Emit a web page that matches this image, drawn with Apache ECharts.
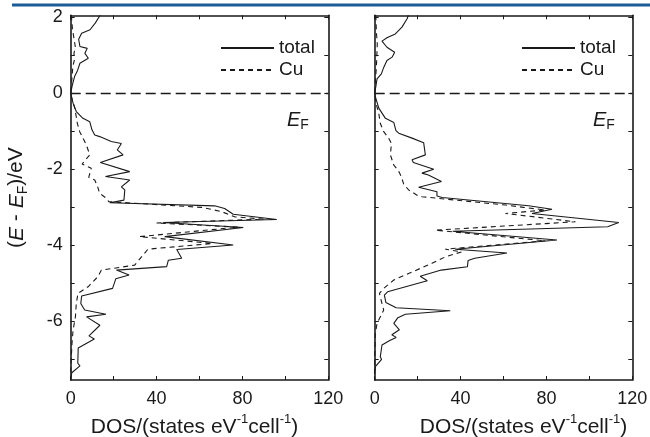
<!DOCTYPE html>
<html>
<head>
<meta charset="utf-8">
<script src="https://cdn.jsdelivr.net/npm/echarts@6/dist/echarts.min.js"></script>
<style>
  html, body { margin: 0; padding: 0; background: #fff; }
  #chart { width: 650px; height: 437px; }
</style>
</head>
<body>
<div id="chart"></div>
<script>
// [DOS, E - EF] pairs
var leftTotal = [
  [13.7, 2.05], [11.5, 1.85], [9, 1.67], [5.1, 1.58], [3.7, 1.42], [4.3, 1.23], [7.7, 1.18], [6.6, 1.05],
  [8.2, 0.92], [4.3, 0.79], [3.2, 0.6], [1.8, 0.44], [0.7, 0.2], [0, 0],
  [0.3, -0.04], [1.1, -0.26], [2.6, -0.48], [5.7, -0.66], [8.9, -0.75], [9.6, -0.8], [9.9, -0.96],
  [11.2, -1.1], [13.5, -1.14], [18.9, -1.27], [23.6, -1.32], [21.7, -1.49], [24.4, -1.62], [13.8, -1.82],
  [27.5, -2.06], [16.2, -2.19], [27.5, -2.28], [23.6, -2.46], [25.2, -2.54], [24.8, -2.81], [18.2, -2.88],
  [67, -2.96], [71.7, -3.03], [75.7, -3.18], [96, -3.32], [43.1, -3.4], [80.4, -3.53], [43.8, -3.77],
  [75.7, -3.99], [49.4, -4.11], [51.7, -4.34], [45.5, -4.39], [44.7, -4.56], [21.3, -4.65], [27.2, -4.78],
  [21, -4.88], [19.5, -5.13], [5.1, -5.33], [4.7, -5.53], [6.5, -5.7], [16.4, -5.81], [7.4, -5.88],
  [13.6, -6.1], [8.5, -6.38], [11, -6.46], [3.5, -6.7], [3.3, -7.1], [4.3, -7.17], [0.5, -7.35], [0, -7.54]
];
var leftCu = [
  [0.3, 2.05], [0.8, 1.7], [1.5, 1.45], [2.2, 1.2], [1.5, 1.05], [1.8, 0.9], [1.0, 0.7], [0.6, 0.4],
  [0.2, 0.15], [0, 0],
  [0.3, -0.09], [1.9, -0.39], [3.1, -0.79], [4.2, -1.01], [7.3, -1.36], [8.9, -1.62], [5.3, -1.86],
  [9.6, -1.97], [8.4, -2.21], [11.2, -2.28], [12.5, -2.45], [13.5, -2.63], [16.6, -2.76], [17.7, -2.85],
  [60.9, -3.0], [70.2, -3.11], [76.4, -3.25], [90, -3.31], [40, -3.41], [78, -3.52], [32, -3.77],
  [66, -3.95], [36, -4.1], [33, -4.3], [29.8, -4.52], [14.3, -4.65], [12.7, -4.82], [8.1, -5.09],
  [3.4, -5.26], [2.6, -5.53], [2.2, -5.88], [1.1, -6.23], [0.6, -6.58], [0.3, -6.93], [0, -7.37]
];
var rightTotal = [
  [15.7, 2.05], [15.1, 1.96], [12.7, 1.74], [9.6, 1.56], [5.7, 1.46], [3.4, 1.37], [5.7, 1.21], [9.3, 1.08],
  [8.1, 0.95], [5.7, 0.86], [4.2, 0.68], [3.1, 0.51], [1.1, 0.38], [0.6, 0.2], [0, 0],
  [0.3, -0.09], [1.9, -0.39], [5.0, -0.66], [8.9, -0.77], [9.6, -0.8], [9.9, -0.98], [11.2, -1.05],
  [17.4, -1.18], [22.8, -1.3], [23.6, -1.32], [23.6, -1.62], [17.4, -1.75], [18, -1.82], [27.5, -2.0],
  [22, -2.1], [25, -2.15], [31.1, -2.32], [20.5, -2.47], [29, -2.59], [29, -2.7], [31.4, -2.74],
  [71.7, -2.96], [82.6, -3.05], [73.3, -3.16], [113.7, -3.4], [108.5, -3.51], [36.3, -3.63], [84.9, -3.86],
  [37.5, -4.1], [61.6, -4.2], [46.6, -4.34], [43.5, -4.4], [43.2, -4.56], [31, -4.65], [21.2, -4.81],
  [24.5, -4.93], [6.0, -5.22], [4.5, -5.31], [5.2, -5.5], [10, -5.64], [35.2, -5.72], [14.3, -5.81],
  [10.8, -5.9], [8.9, -6.05], [11.5, -6.22], [8, -6.35], [10, -6.42], [7, -6.5], [3.4, -6.62],
  [2.6, -6.93], [3.2, -7.0], [0.3, -7.19], [0, -7.3]
];
var rightCu = [
  [0.5, 2.05], [0.8, 1.6], [1.2, 1.3], [1.0, 1.0], [0.8, 0.7], [0.3, 0.3], [0, 0],
  [0.6, -0.26], [1.9, -0.53], [2.6, -0.79], [4.2, -1.01], [6.5, -1.18], [7.8, -1.32], [7.3, -1.62],
  [8.9, -1.89], [10.9, -2.02], [12.4, -2.19], [13.5, -2.39], [15.8, -2.54], [19.7, -2.68], [22, -2.72],
  [60.9, -2.94], [69.4, -3.0], [79.5, -3.07], [60.9, -3.16], [93.5, -3.38], [28.3, -3.6], [79.5, -3.88],
  [32.9, -4.1], [40.5, -4.17], [33, -4.3], [26.7, -4.47], [15.8, -4.74], [8.9, -4.91], [4.2, -5.13],
  [2.2, -5.26], [3.4, -5.53], [4.2, -5.7], [1.1, -6.05], [0.3, -6.32], [0, -6.93], [0, -7.54]
];

var xTicks = [0, 20, 40, 60, 80, 100, 120];
var xLabels = [0, 40, 80, 120];
var yTicks = [-7, -6, -5, -4, -3, -2, -1, 0, 1, 2];
var yLabels = [-6, -4, -2, 0, 2];
var legendNames = ['total', 'Cu'];

var ink = '#1a1a1a';
var font = 'Liberation Sans, Arial, sans-serif';

function xAxisOf(grid, pos, withLabels, namePad) {
  return {
    type: 'value', gridIndex: grid, position: pos, min: 0, max: 120,
    axisLine: { show: true, onZero: false, lineStyle: { color: ink, width: 1.6 } },
    axisTick: { show: true, inside: true, length: 4, customValues: xTicks, lineStyle: { color: ink, width: 1 } },
    axisLabel: { show: withLabels, customValues: xLabels, color: ink, fontSize: 18, fontFamily: font, margin: 10 },
    splitLine: { show: false },
    name: withLabels ? '{a|DOS/(states eV}{s|-1}{a|cell}{s|-1}{a|)}' : '',
    nameLocation: 'middle', nameGap: 30,
    nameTextStyle: {
      padding: namePad,
      rich: {
        a: { fontSize: 21, lineHeight: 28, color: ink, fontFamily: font },
        s: { fontSize: 13, lineHeight: 13, color: ink, fontFamily: font, verticalAlign: 'top' }
      }
    }
  };
}

function yAxisOf(grid, pos, withLabels, withName) {
  return {
    type: 'value', gridIndex: grid, position: pos, min: -7.54, max: 2.05,
    axisLine: { show: true, onZero: false, lineStyle: { color: ink, width: 1.6 } },
    axisTick: { show: true, inside: true, length: 4, customValues: yTicks, lineStyle: { color: ink, width: 1 } },
    axisLabel: { show: withLabels, customValues: yLabels, color: ink, fontSize: 18, fontFamily: font, margin: 8 },
    splitLine: { show: false },
    name: withName ? '{p|(}{i|E}{p| - }{i|E}{b|F}{p|)/eV}' : '',
    nameLocation: 'middle', nameGap: 41, nameRotate: 90,
    nameTextStyle: {
      rich: {
        p: { fontSize: 21, lineHeight: 26, color: ink, fontFamily: font },
        i: { fontSize: 21, lineHeight: 26, color: ink, fontFamily: font, fontStyle: 'italic' },
        b: { fontSize: 14, lineHeight: 14, color: ink, fontFamily: font, verticalAlign: 'bottom' }
      }
    }
  };
}

function curve(name, data, idx, dashed, withZeroLine) {
  var s = {
    name: name, type: 'line', data: data, xAxisIndex: idx * 2, yAxisIndex: idx * 2,
    symbol: 'none', silent: true,
    lineStyle: { color: ink, width: 1.1, type: dashed ? [5, 4] : 'solid' },
    itemStyle: { color: ink }
  };
  if (withZeroLine) {
    s.markLine = {
      silent: true, symbol: 'none', label: { show: false },
      lineStyle: { color: ink, width: 1.3, type: [10, 5] },
      data: [{ yAxis: 0 }]
    };
  }
  return s;
}

function legendAt(left) {
  return {
    data: legendNames, orient: 'vertical', left: left, top: 33,
    itemWidth: 53, itemHeight: 20, itemGap: 2, selectedMode: false,
    itemStyle: { opacity: 0 },
    textStyle: { color: ink, fontSize: 19, lineHeight: 20, fontFamily: font }
  };
}

function efLabel(left) {
  return {
    type: 'text', left: left, top: 110, silent: true,
    style: {
      text: '{i|E}{b|F}',
      rich: {
        i: { fontSize: 20, lineHeight: 24, fill: ink, fontFamily: font, fontStyle: 'italic' },
        b: { fontSize: 14, lineHeight: 14, fill: ink, fontFamily: font, verticalAlign: 'bottom' }
      }
    }
  };
}

var chart = echarts.init(document.getElementById('chart'), null, { renderer: 'canvas' });
chart.setOption({
  animation: false,
  backgroundColor: '#fff',
  grid: [
    { left: 70.7, top: 15.3, width: 257.6, height: 364.7, outerBoundsMode: 'none' },
    { left: 374.7, top: 15.3, width: 257.6, height: 364.7, outerBoundsMode: 'none' }
  ],
  xAxis: [
    xAxisOf(0, 'bottom', true, [0, 10, 0, 0]),
    xAxisOf(0, 'top', false),
    xAxisOf(1, 'bottom', true, [0, 0, 0, 40]),
    xAxisOf(1, 'top', false)
  ],
  yAxis: [
    yAxisOf(0, 'left', true, true),
    yAxisOf(0, 'right', false, false),
    yAxisOf(1, 'left', false, false),
    yAxisOf(1, 'right', false, false)
  ],
  legend: [legendAt(215), legendAt(516)],
  series: [
    curve('total', leftTotal, 0, false, true),
    curve('Cu', leftCu, 0, true, false),
    curve('total', rightTotal, 1, false, true),
    curve('Cu', rightCu, 1, true, false)
  ],
  graphic: [
    { type: 'rect', left: 12, top: 3.5, shape: { width: 638, height: 3 }, style: { fill: '#1b5c97' }, silent: true },
    efLabel(287),
    efLabel(593)
  ]
});
</script>
</body>
</html>
